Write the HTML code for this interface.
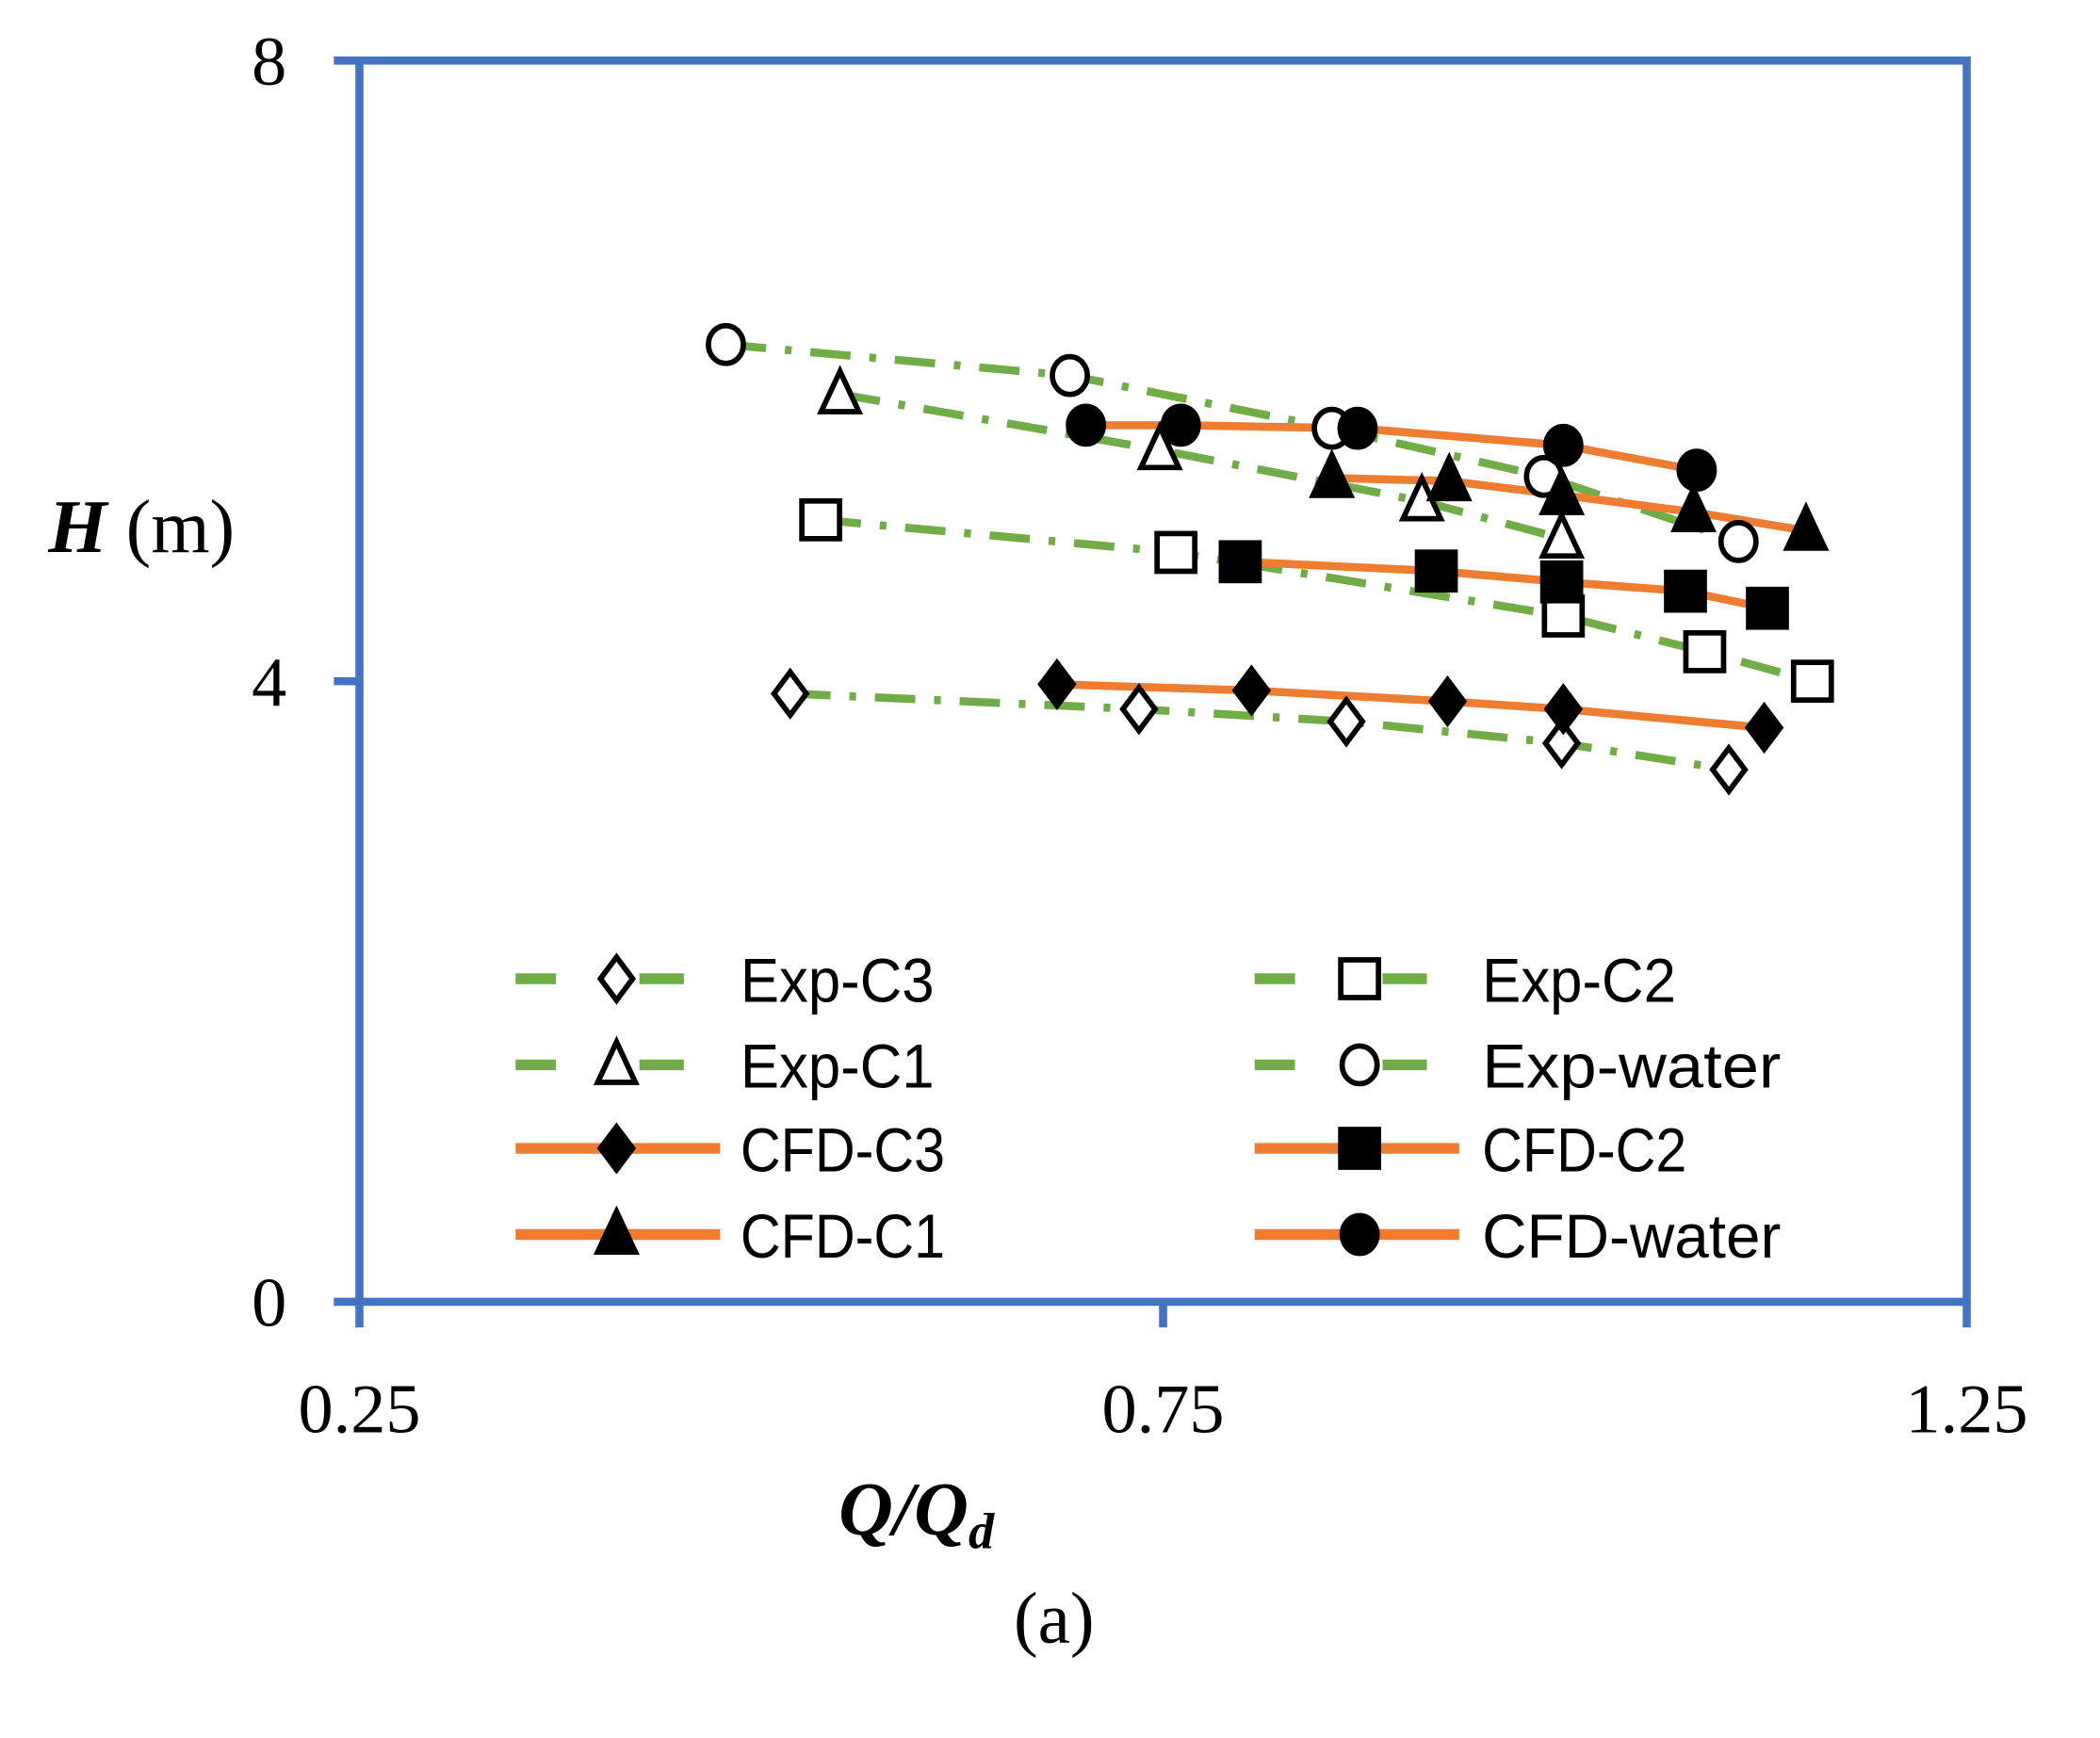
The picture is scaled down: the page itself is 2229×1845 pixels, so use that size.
<!DOCTYPE html>
<html><head><meta charset="utf-8"><style>
html,body{margin:0;padding:0;background:#fff;}
svg{display:block;}
</style></head><body>
<svg id="chart" width="2229" height="1845" viewBox="0 0 1560 1291" preserveAspectRatio="none" xmlns="http://www.w3.org/2000/svg">
<rect x="0" y="0" width="1560" height="1291" fill="#fff"/>
<g id="axes"></g>
<g id="series"></g>
<g id="legend"></g>
<text x="36" y="410" font-family="Liberation Serif, serif" font-size="56"><tspan font-weight="bold" font-style="italic">H</tspan> (m)</text>
<text x="623" y="1140" font-family="Liberation Serif, serif" font-size="56" font-weight="bold" font-style="italic">Q/Q<tspan font-size="38" dy="10">d</tspan></text>
<text x="783" y="1220" text-anchor="middle" font-family="Liberation Serif, serif" font-size="54">(a)</text>
</svg>
<script>
const xTicks = [0.25, 0.75, 1.25];
const yTicks = [0, 4, 8];
const expWaterQ = [0.478, 0.692, 0.855, 0.987, 1.108];
const expWaterH = [6.17, 5.97, 5.63, 5.32, 4.90];
const expC1Q = [0.549, 0.748, 0.911, 0.998];
const expC1H = [5.85, 5.49, 5.16, 4.92];
const expC2Q = [0.537, 0.758, 0.999, 1.087, 1.154];
const expC2H = [5.04, 4.83, 4.42, 4.19, 4.00];
const expC3Q = [0.518, 0.735, 0.864, 0.998, 1.102];
const expC3H = [3.92, 3.82, 3.74, 3.60, 3.43];
const cfdWaterQ = [0.702, 0.761, 0.871, 0.999, 1.082];
const cfdWaterH = [5.65, 5.65, 5.63, 5.52, 5.36];
const cfdC1Q = [0.855, 0.928, 0.998, 1.080, 1.150];
const cfdC1H = [5.31, 5.29, 5.20, 5.09, 4.97];
const cfdC2Q = [0.798, 0.920, 0.998, 1.075, 1.126];
const cfdC2H = [4.77, 4.71, 4.64, 4.58, 4.47];
const cfdC3Q = [0.684, 0.805, 0.927, 0.999, 1.124];
const cfdC3H = [3.98, 3.94, 3.87, 3.82, 3.70];

const NS = "http://www.w3.org/2000/svg";
const L = 267, R = 1461, T = 45, B = 967;
const xMin = 0.25, xMax = 1.25, yMin = 0, yMax = 8;
function sx(v){ return L + (v - xMin) / (xMax - xMin) * (R - L); }
function sy(v){ return B - (v - yMin) / (yMax - yMin) * (B - T); }
function mk(tag, attrs, parent){
  const e = document.createElementNS(NS, tag);
  for (const k in attrs) e.setAttribute(k, attrs[k]);
  parent.appendChild(e); return e;
}
const axes = document.getElementById('axes');
const BLUE = "#4472C4", GREEN = "#70AD47", ORANGE = "#ED7D31";
let fr = mk('rect', {x:L, y:T, width:R-L, height:B-T, fill:'none', stroke:BLUE, 'stroke-width':6}, axes);


yTicks.forEach(v => {
  const t = mk('line', {x1:L-19, x2:L, y1:sy(v), y2:sy(v), stroke:BLUE, 'stroke-width':6}, axes);
  
  
  const lb = mk('text', {x:213, y:sy(v)+18, 'text-anchor':'end', 'font-family':'Liberation Serif, serif', 'font-size':52}, axes);
  
  
  lb.textContent = String(v);
});
xTicks.forEach(v => {
  const t = mk('line', {x1:sx(v), x2:sx(v), y1:B, y2:B+19, stroke:BLUE, 'stroke-width':6}, axes);
  
  
  const lb = mk('text', {x:sx(v), y:1064, 'text-anchor':'middle', 'font-family':'Liberation Serif, serif', 'font-size':52}, axes);
  
  
  lb.textContent = v.toFixed(2);
});

function marker(shape, filled, x, y, parent){
  const fill = filled ? '#000' : '#fff';
  const sw = 4;
  let e;
  if (shape === 'circle') e = mk('ellipse', {cx:x, cy:y, rx:13, ry:14, fill:fill, stroke:'#000', 'stroke-width':sw}, parent);
  else if (shape === 'square') e = mk('rect', {x:x-14, y:y-14, width:28, height:28, fill:fill, stroke:'#000', 'stroke-width':sw}, parent);
  else if (shape === 'triangle') e = mk('polygon', {points:`${x},${y-17} ${x+14},${y+13} ${x-14},${y+13}`, fill:fill, stroke:'#000', 'stroke-width':sw}, parent);
  else e = mk('polygon', {points:`${x},${y-16} ${x+12},${y} ${x},${y+16} ${x-12},${y}`, fill:fill, stroke:'#000', 'stroke-width':sw}, parent);
  return e;
}
const DASH = "30 14 5 14";
const series = [
  {name:'exp-c3', q:expC3Q, h:expC3H, shape:'diamond', filled:false, color:GREEN, dash:DASH},
  {name:'exp-c2', q:expC2Q, h:expC2H, shape:'square', filled:false, color:GREEN, dash:DASH},
  {name:'exp-c1', q:expC1Q, h:expC1H, shape:'triangle', filled:false, color:GREEN, dash:DASH},
  {name:'exp-water', q:expWaterQ, h:expWaterH, shape:'circle', filled:false, color:GREEN, dash:DASH},
  {name:'cfd-c3', q:cfdC3Q, h:cfdC3H, shape:'diamond', filled:true, color:ORANGE, dash:null},
  {name:'cfd-c2', q:cfdC2Q, h:cfdC2H, shape:'square', filled:true, color:ORANGE, dash:null},
  {name:'cfd-c1', q:cfdC1Q, h:cfdC1H, shape:'triangle', filled:true, color:ORANGE, dash:null},
  {name:'cfd-water', q:cfdWaterQ, h:cfdWaterH, shape:'circle', filled:true, color:ORANGE, dash:null}
];
const sg = document.getElementById('series');
series.forEach(s => {
  const g = mk('g', {}, sg);
  
  
  const pts = s.q.map((q,i) => sx(q) + ',' + sy(s.h[i])).join(' ');
  const attrs = {points:pts, fill:'none', stroke:s.color, 'stroke-width':6};
  if (s.dash) attrs['stroke-dasharray'] = s.dash;
  const ln = mk('polyline', attrs, g);
  
  
});
series.forEach(s => {
  const g = mk('g', {}, sg);
  
  
  s.q.forEach((q,i) => {
    const m = marker(s.shape, s.filled, sx(q), sy(s.h[i]), g);
    
    
  });
});

const lg = document.getElementById('legend');
const legendRows = [
  [series[0], 0, 727], [series[1], 1, 727],
  [series[2], 0, 791], [series[3], 1, 791],
  [series[4], 0, 853], [series[5], 1, 853],
  [series[6], 0, 917], [series[7], 1, 917]
];
const legendLabels = ['Exp-C3','Exp-C2','Exp-C1','Exp-water','CFD-C3','CFD-C2','CFD-C1','CFD-water'];
legendRows.forEach((r, idx) => {
  const s = r[0], col = r[1], y = r[2];
  const x0 = col ? 932 : 383;
  const mx = col ? 1010 : 458;
  const tx = col ? 1101 : 550;
  const g = mk('g', {}, lg);
  
  
  if (s.dash) {
    mk('line', {x1:x0, x2:x0+30, y1:y, y2:y, stroke:s.color, 'stroke-width':8}, g);
    mk('line', {x1:mx+17, x2:mx+50, y1:y, y2:y, stroke:s.color, 'stroke-width':8}, g);
  } else {
    mk('line', {x1:x0, x2:x0+152, y1:y, y2:y, stroke:s.color, 'stroke-width':8}, g);
  }
  marker(s.shape, s.filled, mx, y, g);
  const t = mk('text', {x:tx, y:y+17, 'font-family':'Liberation Sans, sans-serif', 'font-size':46, textLength: legendLabels[idx].length > 7 ? 222 : (legendLabels[idx].startsWith('CFD') ? 152 : 144), lengthAdjust:'spacingAndGlyphs'}, g);
  
  
  t.textContent = legendLabels[idx];
});
</script>
</body></html>
